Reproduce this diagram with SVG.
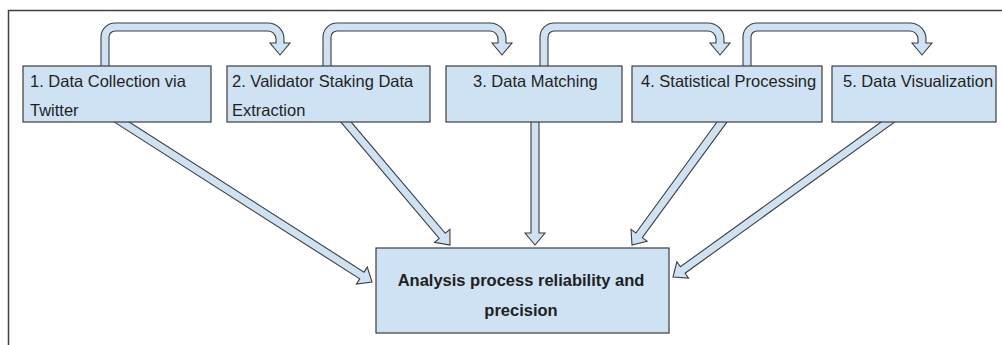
<svg xmlns="http://www.w3.org/2000/svg" width="1002" height="345" viewBox="0 0 1002 345">
<style>
.frame{fill:none;stroke:#404040;stroke-width:1.5}
.box{fill:#cfe2f3;stroke:#3d3d3d;stroke-width:1.2}
.arrow{fill:#cfe2f3;stroke:#3d3d3d;stroke-width:1.1;stroke-linejoin:miter}
.lbl{font-family:"Liberation Sans",Arial,sans-serif;font-size:16.5px;fill:#1f1f1f}
.bold{font-weight:bold;text-anchor:middle}
</style>
<rect width="1002" height="345" fill="#ffffff"/>
<path class="frame" d="M8.5,345 V10.5 H1002"/>
<g id="connectors">
<path class="arrow" d="M101,70 V37 A14 14 0 0 1 115,23 H268 A16 16 0 0 1 284,39 V43 H290 L280,55 L270,43 H276 V39 A8 8 0 0 0 268,31 H115 A6 6 0 0 0 109,37 V70 Z"/>
<path class="arrow" d="M323,70 V37 A14 14 0 0 1 337,23 H490 A16 16 0 0 1 506,39 V43 H512 L502,55 L492,43 H498 V39 A8 8 0 0 0 490,31 H337 A6 6 0 0 0 331,37 V70 Z"/>
<path class="arrow" d="M540,70 V37 A14 14 0 0 1 554,23 H708 A16 16 0 0 1 724,39 V43 H730 L720,55 L710,43 H716 V39 A8 8 0 0 0 708,31 H554 A6 6 0 0 0 548,37 V70 Z"/>
<path class="arrow" d="M743,70 V37 A14 14 0 0 1 757,23 H910 A16 16 0 0 1 926,39 V43 H932 L922,55 L912,43 H918 V39 A8 8 0 0 0 910,31 H757 A6 6 0 0 0 751,37 V70 Z"/>
<polygon class="arrow" points="103.85,115.37 359.74,278.91 356.51,283.97 372,282 367.28,267.11 364.04,272.17 108.15,108.63"/>
<polygon class="arrow" points="336.45,116.98 439.20,238.42 434.62,242.30 450,245 449.88,229.38 445.30,233.26 342.55,111.82"/>
<polygon class="arrow" points="531,112 531,233 525,233 535,245 545,233 539,233 539,112"/>
<polygon class="arrow" points="724.67,111.54 635.85,232.95 631.01,229.41 632,245 647.15,241.21 642.31,237.67 731.13,116.26"/>
<polygon class="arrow" points="895.36,111.76 680.39,266.74 676.88,261.87 673,277 688.58,278.09 685.07,273.22 900.04,118.25"/>
</g>
<g id="node1">
<rect class="box" x="23" y="66" width="188" height="56"/>
<text class="lbl" x="30" y="87">1. Data Collection via</text>
<text class="lbl" x="30" y="115.5">Twitter</text>
</g>
<g id="node2">
<rect class="box" x="227" y="66" width="203" height="56"/>
<text class="lbl" x="232" y="87">2. Validator Staking Data</text>
<text class="lbl" x="232" y="115.5">Extraction</text>
</g>
<g id="node3">
<rect class="box" x="446" y="66" width="176" height="56"/>
<text class="lbl" x="473" y="87">3. Data Matching</text>
</g>
<g id="node4">
<rect class="box" x="632" y="66" width="190" height="56"/>
<text class="lbl" x="641" y="87">4. Statistical Processing</text>
</g>
<g id="node5">
<rect class="box" x="832" y="66" width="164" height="56"/>
<text class="lbl" x="843" y="87">5. Data Visualization</text>
</g>
<g id="result">
<rect class="box" x="376" y="248" width="293" height="85"/>
<text class="lbl bold" x="521" y="286">Analysis process reliability and</text>
<text class="lbl bold" x="521" y="316">precision</text>
</g>
</svg>
